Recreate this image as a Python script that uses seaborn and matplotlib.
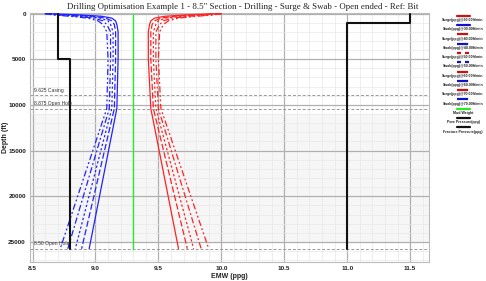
import numpy as np
import pandas as pd
import matplotlib
matplotlib.use("Agg")
import matplotlib.pyplot as plt
from matplotlib.lines import Line2D
import seaborn as sns

sns.set_theme(style="white")
plt.rcParams['font.family'] = ['Liberation Sans', 'DejaVu Sans']

# ---------------- data ----------------
speeds = [30, 40, 50, 60, 70]
depth = [0, 150, 300, 500, 800, 1200, 2000, 5000, 10400, 25750]

surge_30 = [10.0, 9.72, 9.55, 9.47, 9.44, 9.43, 9.42, 9.42, 9.44, 9.66]
surge_40 = [10.0, 9.80, 9.62, 9.52, 9.47, 9.45, 9.44, 9.44, 9.46, 9.73]
surge_50 = [10.0, 9.86, 9.68, 9.56, 9.50, 9.48, 9.46, 9.46, 9.48, 9.78]
surge_60 = [10.0, 9.90, 9.74, 9.61, 9.54, 9.51, 9.48, 9.48, 9.50, 9.84]
surge_70 = [10.0, 9.94, 9.80, 9.66, 9.58, 9.54, 9.51, 9.50, 9.52, 9.90]

swab_30 = [8.6, 8.88, 9.05, 9.13, 9.16, 9.17, 9.18, 9.18, 9.17, 8.95]
swab_40 = [8.6, 8.80, 8.98, 9.08, 9.13, 9.15, 9.16, 9.16, 9.15, 8.89]
swab_50 = [8.6, 8.74, 8.92, 9.04, 9.10, 9.12, 9.14, 9.14, 9.13, 8.84]
swab_60 = [8.6, 8.70, 8.86, 8.99, 9.06, 9.09, 9.12, 9.12, 9.11, 8.78]
swab_70 = [8.6, 8.66, 8.80, 8.94, 9.02, 9.06, 9.09, 9.10, 9.09, 8.72]

mud_depth = [0, 25750]
mud_weight = [9.3, 9.3]
pore_depth = [0, 5000, 5000, 25750]
pore_pressure = [8.7, 8.7, 8.8, 8.8]
frac_depth = [0, 1050, 1050, 25750]
frac_pressure = [11.5, 11.5, 11.0, 11.0]

casing_depths = [8900, 10400, 25750]
casing_labels = ["9.625 Casing", "8.875 Open Hole", "8.50 Open Hole"]

title = 'Drilling Optimisation Example 1 - 8.5" Section - Drilling - Surge & Swab - Open ended - Ref: Bit'

# ---------------- build table ----------------
surge = [surge_30, surge_40, surge_50, surge_60, surge_70]
swab = [swab_30, swab_40, swab_50, swab_60, swab_70]
dash_list = ["", (5, 2), (1.8, 1.8), (5, 2, 1.5, 2), (5, 2, 1.5, 2, 1.5, 2)]

rows = []
names = []
palette = {}
dashes = {}
widths = {}
for sp, su, sw, d in zip(speeds, surge, swab, dash_list):
    n1 = f"Surge(ppg)@{sp:.2f}ft/min"
    n2 = f"Swab(ppg)@{sp:.2f}ft/min"
    for i, (dp, v) in enumerate(zip(depth, su)):
        rows.append((n1, i, dp, v))
    for i, (dp, v) in enumerate(zip(depth, sw)):
        rows.append((n2, i, dp, v))
    names += [n1, n2]
    palette[n1] = "#ff2222"
    palette[n2] = "#2222ff"
    dashes[n1] = d
    dashes[n2] = d
    widths[n1] = 0.9
    widths[n2] = 0.9

for n, dd, vv, c, w in [("Mud Weight", mud_depth, mud_weight, "#22ee22", 1.0),
                        ("Pore Pressure(ppg)", pore_depth, pore_pressure, "#111111", 1.5),
                        ("Fracture Pressure(ppg)", frac_depth, frac_pressure, "#111111", 1.5)]:
    for i, (dp, v) in enumerate(zip(dd, vv)):
        rows.append((n, i, dp, v))
    names.append(n)
    palette[n] = c
    dashes[n] = ""
    widths[n] = w

df = pd.DataFrame(rows, columns=["series", "order", "depth", "emw"])

# ---------------- figure ----------------
fig = plt.figure(figsize=(4.86, 2.81), dpi=100)
ax = fig.add_axes([30/486, 1 - 262/281, (429-30)/486, (262-13)/281])
ax.set_facecolor("white")

ax.axhspan(11000, 25000, color="#f6f6f6", zorder=0)

for n in names:
    sub = df[df.series == n]
    sns.lineplot(data=sub, x="emw", y="depth", sort=False, estimator=None,
                 color=palette[n], lw=widths[n], ax=ax, zorder=3,
                 dashes=False, legend=False)
    if dashes[n]:
        ax.lines[-1].set_dashes(dashes[n])

ax.set_xlim(8.48, 11.65)
ax.set_ylim(27200, -60)

ax.set_xticks([8.5, 9.0, 9.5, 10.0, 10.5, 11.0, 11.5])
ax.set_xticklabels(["8.5", "9.0", "9.5", "10.0", "10.5", "11.0", "11.5"])
ax.set_xticks(np.arange(8.5, 11.65, 0.1), minor=True)
ax.set_yticks([0, 5000, 10000, 15000, 20000, 25000])
ax.set_yticklabels(["0", "5000", "10000", "15000", "20000", "25000"])
ax.set_yticks(np.arange(0, 27001, 1000), minor=True)

ax.grid(which="major", color="#b0b0b0", lw=0.9, zorder=1)
ax.grid(which="minor", color="#e8e8e8", lw=0.5, zorder=1)
ax.set_axisbelow(True)

ax.tick_params(axis="both", which="both", length=0, pad=3)
for lab in ax.get_xticklabels() + ax.get_yticklabels():
    lab.set_fontsize(4.6)
    lab.set_fontweight("bold")
    lab.set_color("#222222")

for s in ax.spines.values():
    s.set_color("#bbbbbb")
    s.set_linewidth(0.8)

for dpt, lab in zip(casing_depths, casing_labels):
    ax.axhline(dpt, color="#999999", lw=0.7, ls=(0, (3, 2)), zorder=2)
    ax.text(8.51, dpt - 250, lab, fontsize=3.6, color="#333333", va="bottom", ha="left")

ax.set_xlabel("")
ax.set_ylabel("")
fig.text(229.5/486, 1 - 276/281, "EMW (ppg)", ha="center", va="center",
         fontsize=5, fontweight="bold", color="#222222")
fig.text(5.5/486, 1 - 137/281, "Depth (ft)", ha="center", va="center", rotation=90,
         fontsize=5, fontweight="bold", color="#222222")

fig.text(0.5, 1 - 7/281, title, ha="center", va="center", fontsize=6.4,
         family="Liberation Serif", color="#222222")

# ---------------- legend (line above label) ----------------
lx = 463 / 486
y0 = 15.7
step = 9.3
for k, n in enumerate(names):
    yl = y0 + k * step
    yf = 1 - yl / 281
    if "Surge" in n:
        lc = "#cc1111"
    elif "Swab" in n:
        lc = "#1111cc"
    else:
        lc = palette[n]
    ln = Line2D([lx - 6.5/486, lx + 6.5/486], [yf, yf], transform=fig.transFigure,
                color=lc, lw=1.6)
    if dashes[n]:
        ln.set_dashes(dashes[n])
    fig.add_artist(ln)
    fig.text(lx, 1 - (yl + 4.2) / 281, n, ha="center", va="center",
             fontsize=2.6, fontweight="bold", color="#222222")

fig.savefig("out.png", dpi=100)
